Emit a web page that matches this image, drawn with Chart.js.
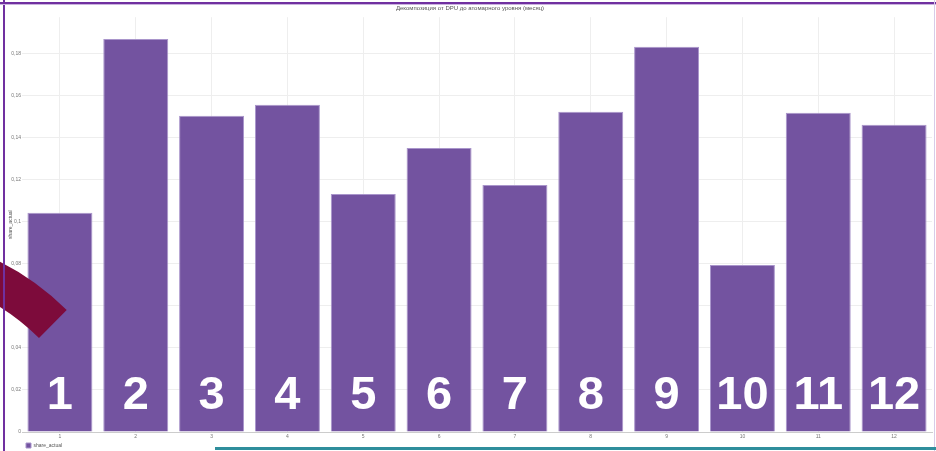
<!DOCTYPE html>
<html>
<head>
<meta charset="utf-8">
<script src="https://cdn.jsdelivr.net/npm/chart.js@4/dist/chart.umd.min.js"></script>
<style>
    html, body { margin: 0; padding: 0; background: #ffffff; }
    #wrap { position: relative; width: 936px; height: 451px; overflow: hidden; }
    #chart { position: absolute; left: 0; top: 0; }
    .frame-left { position: absolute; left: 3px; top: 0; width: 2px; height: 451px; background: #7030a0; }
    .frame-top { position: absolute; left: 0; top: 2px; width: 936px; height: 2px; background: #7030a0; border-bottom: 1px solid #c9b3de; }
    .frame-right { position: absolute; left: 934px; top: 0; width: 1px; height: 451px; background: #d8cbe8; }
    .teal-line { position: absolute; left: 215px; top: 447px; width: 721px; height: 3px; background: #2f8e9c; }
    #arc { position: absolute; left: 0; top: 0; pointer-events: none; }
</style>
</head>
<body>
<div id="wrap">
    <canvas id="chart" width="936" height="451"></canvas>
    <svg id="arc" width="936" height="451">
        <path d="M -51 242.4 A 265 265 0 0 1 66.7 310 L 39 338 A 225.6 225.6 0 0 0 -61.2 280.5 Z" fill="#7d0b3b"/>
    </svg>
    <div class="frame-left"></div>
    <div class="frame-top"></div>
    <div class="frame-right"></div>
    <div class="teal-line"></div>
</div>
<script>
const months = ['1', '2', '3', '4', '5', '6', '7', '8', '9', '10', '11', '12'];
const shareActual = [0.1043, 0.187, 0.1505, 0.1557, 0.1133, 0.1352, 0.1176, 0.1524, 0.1833, 0.0795, 0.1519, 0.1462];
const bigLabels = ['1', '2', '3', '4', '5', '6', '7', '8', '9', '10', '11', '12'];

const palette = {
    bar: '#7353a0',
    barEdge: '#a995cb',
    grid: '#eeeeee',
    tick: '#777777',
    title: '#555555'
};
const smallFont = 'Liberation Sans, Arial, sans-serif';

const fmtComma = value => String(+Number(value).toFixed(2)).replace('.', ',');

// big white month numbers painted over each bar (slide annotation)
const bigNumbers = {
    id: 'bigNumbers',
    afterDatasetsDraw(chart) {
        const ctx = chart.ctx;
        const meta = chart.getDatasetMeta(0);
        const base = chart.scales.y.getPixelForValue(0);
        ctx.save();
        ctx.fillStyle = '#ffffff';
        ctx.font = 'bold 47px "Liberation Sans", Arial, sans-serif';
        ctx.textAlign = 'center';
        ctx.textBaseline = 'alphabetic';
        meta.data.forEach((bar, index) => {
            ctx.fillText(bigLabels[index], bar.x, base - 23);
        });
        ctx.restore();
    }
};

new Chart(document.getElementById('chart').getContext('2d'), {
    type: 'bar',
    data: {
        labels: months,
        datasets: [{
            label: 'share_actual',
            data: shareActual,
            backgroundColor: palette.bar,
            borderColor: palette.barEdge,
            borderWidth: 1,
            categoryPercentage: 1,
            barPercentage: 0.857
        }]
    },
    options: {
        responsive: false,
        animation: false,
        layout: { padding: { left: 8, right: 4, top: 0, bottom: 0 } },
        plugins: {
            title: {
                display: true,
                text: 'Декомпозиция от DPU до атомарного уровня (месяц)',
                color: palette.title,
                font: { family: smallFont, size: 6, weight: 'normal' },
                padding: { top: 5, bottom: 5 }
            },
            legend: {
                display: true,
                position: 'bottom',
                align: 'start',
                fullSize: false,
                maxHeight: 12,
                labels: {
                    color: '#555555',
                    boxWidth: 5,
                    boxHeight: 5,
                    padding: 4,
                    font: { family: smallFont, size: 5 }
                }
            },
            tooltip: { enabled: false }
        },
        scales: {
            x: {
                grid: { color: palette.grid, offset: false, drawTicks: false },
                border: { color: '#cccccc' },
                ticks: { color: palette.tick, padding: 2, font: { family: smallFont, size: 5 } },
                afterFit: scale => { scale.height = 7; }
            },
            y: {
                min: 0,
                max: 0.1974,
                ticks: {
                    stepSize: 0.02,
                    color: palette.tick,
                    padding: 1,
                    font: { family: smallFont, size: 5 },
                    callback: value => fmtComma(value)
                },
                afterBuildTicks: scale => {
                    scale.ticks = scale.ticks.filter(t => Math.abs(t.value / 0.02 - Math.round(t.value / 0.02)) < 1e-6);
                },
                grid: { color: palette.grid, drawTicks: false },
                border: { display: false },
                title: {
                    display: true,
                    text: 'share_actual',
                    color: '#555555',
                    padding: 0,
                    font: { family: smallFont, size: 5 }
                },
                afterFit: scale => { scale.width = 14; }
            }
        }
    },
    plugins: [bigNumbers]
});
</script>
</body>
</html>
